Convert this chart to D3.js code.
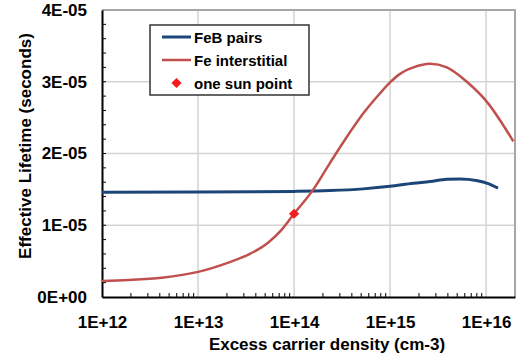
<!DOCTYPE html>
<html>
<head>
<meta charset="utf-8">
<script src="https://cdn.jsdelivr.net/npm/d3@7"></script>
<style>
  html, body { margin: 0; padding: 0; background: #fff; }
  svg { display: block; font-family: "Liberation Sans", Arial, sans-serif; font-weight: bold; }
</style>
</head>
<body>
<svg id="chart" width="519" height="356"></svg>
<script>
// Injection-level dependent lifetime for iron-related defects
const fibDensity  = [1e12, 1e13, 1e14, 2.37e14, 5.27e14, 1e15, 1.75e15, 2.61e15, 3.9e15, 5.4e15, 7.9e15, 1.07e16, 1.33e16];
const fibLifetime = [1.461e-5, 1.462e-5, 1.472e-5, 1.483e-5, 1.507e-5, 1.542e-5, 1.586e-5, 1.609e-5, 1.642e-5, 1.646e-5, 1.625e-5, 1.577e-5, 1.517e-5];

const feiDensity  = [1e12, 1.9e12, 4.2e12, 1e13, 2.07e13, 3.34e13, 5.4e13, 7.45e13, 1e14, 1.59e14, 2.37e14, 3.54e14, 5.27e14, 7.87e14, 1e15, 1.27e15, 1.75e15, 2.61e15, 3.9e15, 6.3e15, 1.02e16, 1.92e16];
const feiLifetime = [2.23e-6, 2.37e-6, 2.69e-6, 3.5e-6, 4.8e-6, 5.9e-6, 7.6e-6, 9.4e-6, 1.16e-5, 1.5e-5, 1.87e-5, 2.23e-5, 2.56e-5, 2.84e-5, 2.99e-5, 3.11e-5, 3.2e-5, 3.25e-5, 3.2e-5, 3.0e-5, 2.72e-5, 2.17e-5];

const oneSunDensity  = [1e14];
const oneSunLifetime = [1.16e-5];

const xTickValues = [1e12, 1e13, 1e14, 1e15, 1e16];
const xTickLabels = ["1E+12", "1E+13", "1E+14", "1E+15", "1E+16"];
const yTickValues = [0, 1e-5, 2e-5, 3e-5, 4e-5];
const yTickLabels = ["0E+00", "1E-05", "2E-05", "3E-05", "4E-05"];

const seriesNames = ["FeB pairs", "Fe interstitial", "one sun point"];
const xTitle = "Excess carrier density (cm-3)";
const yTitle = "Effective Lifetime (seconds)";

const colBlue = "#1b4677", colRed = "#c0504d", colPoint = "#f21d1d";

const svg = d3.select("#chart");
const L = 102, R = 515, T = 10, B = 297;

const x = d3.scaleLog().domain([1e12, 2e16]).range([L, R]);
const y = d3.scaleLinear().domain([0, 4e-5]).range([B, T]);

// gridlines
const grid = svg.append("g");
grid.selectAll("line.gx").data(xTickValues.slice(1)).join("line")
  .attr("x1", d => x(d)).attr("x2", d => x(d)).attr("y1", T).attr("y2", B)
  .attr("stroke", "#d3d3d3").attr("stroke-width", 1.5);
grid.selectAll("line.gy").data(yTickValues.slice(1)).join("line")
  .attr("x1", L).attr("x2", R).attr("y1", d => y(d)).attr("y2", d => y(d))
  .attr("stroke", "#d3d3d3").attr("stroke-width", 1.5);

// plot-area frame (top and right)
svg.append("path")
  .attr("d", `M${L},${T}H${R}V${B}`)
  .attr("fill", "none").attr("stroke", "#a6a6a6").attr("stroke-width", 2);

// minor ticks (inside)
const minorX = [];
for (let e = 12; e <= 16; e++) for (let m = 2; m <= 9; m++) { const v = m * Math.pow(10, e); if (v < 2e16) minorX.push(v); }
svg.append("g").selectAll("line").data(minorX).join("line")
  .attr("x1", d => x(d)).attr("x2", d => x(d)).attr("y1", B).attr("y2", B - 4)
  .attr("stroke", "#000").attr("stroke-width", 1);
const minorY = d3.range(1, 20).map(i => i * 2e-6);
svg.append("g").selectAll("line").data(minorY).join("line")
  .attr("x1", L).attr("x2", L + 4).attr("y1", d => y(d)).attr("y2", d => y(d))
  .attr("stroke", "#000").attr("stroke-width", 1);

// axes
const xAxis = d3.axisBottom(x).tickValues(xTickValues).tickFormat((d, i) => xTickLabels[i]).tickSize(0).tickPadding(19);
const gx = svg.append("g").attr("transform", `translate(0,${B})`).call(xAxis);
gx.select(".domain").attr("stroke", "#000").attr("stroke-width", 2);
gx.selectAll("text").attr("font-size", 17).attr("font-weight", "bold").attr("font-family", "Liberation Sans, Arial, sans-serif").attr("fill", "#000");

const yAxis = d3.axisLeft(y).tickValues(yTickValues).tickFormat((d, i) => yTickLabels[i]).tickSize(0).tickPadding(15);
const gy = svg.append("g").attr("transform", `translate(${L},0)`).call(yAxis);
gy.select(".domain").attr("stroke", "#000").attr("stroke-width", 2);
gy.selectAll("text").attr("font-size", 17).attr("font-weight", "bold").attr("font-family", "Liberation Sans, Arial, sans-serif").attr("fill", "#000");

// series
const line = d3.line().x(d => x(d[0])).y(d => y(d[1])).curve(d3.curveMonotoneX);
svg.append("path").datum(d3.zip(fibDensity, fibLifetime)).attr("d", line)
  .attr("fill", "none").attr("stroke", colBlue).attr("stroke-width", 3);
svg.append("path").datum(d3.zip(feiDensity, feiLifetime)).attr("d", line)
  .attr("fill", "none").attr("stroke", colRed).attr("stroke-width", 2.5);

const diamond = d3.symbol(d3.symbolSquare, 52);
svg.append("g").selectAll("path").data(d3.zip(oneSunDensity, oneSunLifetime)).join("path")
  .attr("d", diamond)
  .attr("transform", d => `translate(${x(d[0])},${y(d[1])}) rotate(45)`)
  .attr("fill", colPoint);

// axis titles
svg.append("text").attr("x", 327).attr("y", 350).attr("text-anchor", "middle")
  .attr("font-size", 17).text(xTitle);
svg.append("text").attr("transform", "translate(31,146) rotate(-90)").attr("text-anchor", "middle")
  .attr("font-size", 17).text(yTitle);

// legend
const lg = svg.append("g").attr("transform", "translate(150,25)");
lg.append("rect").attr("x", 0).attr("y", 0).attr("width", 159).attr("height", 70)
  .attr("fill", "#fff").attr("stroke", "#333").attr("stroke-width", 1.5);
const rows = [12, 35, 58];
lg.append("line").attr("x1", 12).attr("x2", 41).attr("y1", rows[0]).attr("y2", rows[0]).attr("stroke", colBlue).attr("stroke-width", 3);
lg.append("line").attr("x1", 12).attr("x2", 41).attr("y1", rows[1]).attr("y2", rows[1]).attr("stroke", colRed).attr("stroke-width", 2.5);
lg.append("path").attr("d", diamond).attr("transform", `translate(26.5,${rows[2]}) rotate(45)`).attr("fill", colPoint);
lg.selectAll("text").data(seriesNames).join("text")
  .attr("x", 44).attr("y", (d, i) => rows[i] + 5.5).attr("font-size", 15).text(d => d);
</script>
</body>
</html>
